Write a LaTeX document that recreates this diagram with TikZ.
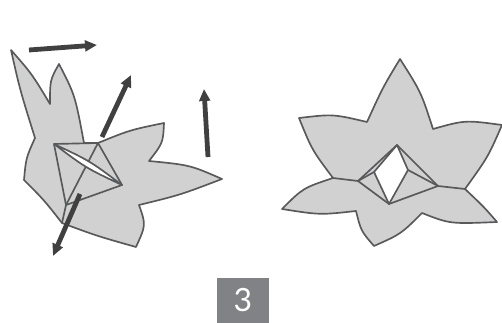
\documentclass[tikz,border=0pt]{standalone}
\usepackage{fontspec}
\setsansfont{Lato}
\usetikzlibrary{arrows.meta}
\definecolor{petalfill}{RGB}{209,209,209}
\definecolor{petalline}{RGB}{88,89,91}
\definecolor{pushline}{RGB}{64,64,64}
\definecolor{numfill}{RGB}{128,130,133}

\begin{document}
\begin{tikzpicture}[
  x=0.75pt, y=-0.75pt, line join=round,
  petal/.style={draw=petalline, line width=1.25pt, fill=petalfill},
  crease/.style={draw=petalline, line width=1.25pt},
  hole/.style={petal, fill=white},
  push/.style={-{Triangle[length=9pt,width=8pt]}, line width=3.6pt, pushline},
  numbox/.style={fill=numfill, text=white, minimum width=39pt, minimum height=34pt, inner sep=0pt, font=\sffamily\fontsize{24}{24}\selectfont}]
\useasboundingbox (0,0) rectangle (502,323);

% left: half folded
\draw[petal] (11,50) .. controls (32,74) .. (50,104) .. controls (50,80) .. (59,64)
  .. controls (75,95) .. (84,143) -- (98,143) .. controls (130,130) .. (164,123)
  .. controls (163,143) .. (149,161) .. controls (190,165) .. (222,179)
  .. controls (180,195) .. (139,205) .. controls (146,225) .. (136,247)
  .. controls (97,236) .. (62,223) .. controls (44,200) .. (24,180)
  .. controls (26,158) .. (35,138) .. controls (20,90) .. (11,50) -- cycle;
\coordinate (la) at (54,144);
\coordinate (lb) at (98,143);
\coordinate (lc) at (122,185);
\coordinate (ld) at (66,205);
\draw[crease] (la) -- (lb) -- (lc) -- (ld) -- cycle;
\draw[crease] (lb) -- (ld) -- (62,223);
\draw[hole] (la) .. controls (90,161) .. (lc) .. controls (86,168) .. (la) -- cycle;

% right: flat
\draw[petal] (400,59) .. controls (421,92) .. (433,129) .. controls (465,120) .. (502,125)
  .. controls (488,157) .. (465,189) .. controls (484,207) .. (497,222)
  .. controls (450,224) .. (422,213) .. controls (401,234) .. (374,246)
  .. controls (361,231) .. (356,211) .. controls (320,215) .. (282,209)
  .. controls (303,188) .. (333,178) .. controls (312,150) .. (299,118)
  .. controls (333,114) .. (367,122) .. controls (383,87) .. (400,59) -- cycle;
\coordinate (ra) at (397,145);
\coordinate (rb) at (438,186);
\coordinate (rc) at (389,204);
\coordinate (rd) at (358,181);
\coordinate (re) at (408,170);
\coordinate (rf) at (374,172);
\draw[hole] (ra) -- (re) -- (rc) -- (rf) -- cycle;
\draw[crease] (ra) -- (rb) -- (rc) -- (rd) -- cycle;
\draw[crease] (re) -- (rb);
\draw[crease] (rf) -- (rd);
\draw[crease] (333,178) -- (rd);
\draw[crease] (rb) -- (465,189);

% arrows
\draw[push] (29,50) -- (97,45);
\draw[push] (102,137) -- (131,75);
\draw[push] (208,157) -- (204,89);
\draw[push] (80,194) -- (53,256);

\node[numbox] (num) at (243,300.5) {3};
\end{tikzpicture}
\end{document}
